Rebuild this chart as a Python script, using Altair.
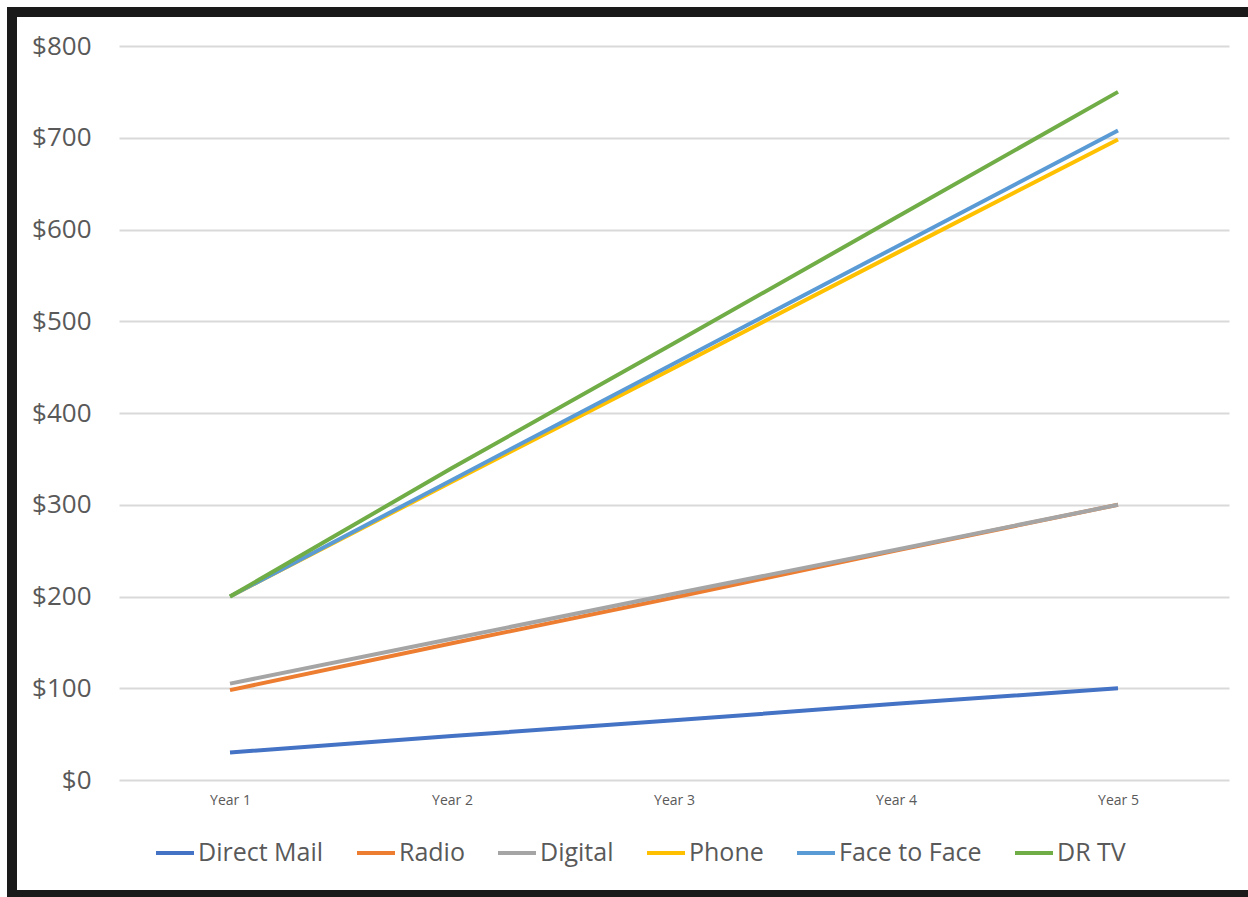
import altair as alt
import pandas as pd

years = ["Year 1", "Year 2", "Year 3", "Year 4", "Year 5"]
channels = ["Direct Mail", "Radio", "Digital", "Phone", "Face to Face", "DR TV"]
colors = ["#4472C4", "#ED7D31", "#A5A5A5", "#FFC000", "#5B9BD5", "#70AD47"]

direct_mail = [30, 48, 65, 83, 100]
radio = [98, 149, 199, 250, 300]
digital = [105, 154, 203, 251, 300]
phone = [200, 325, 449, 574, 698]
face_to_face = [200, 327, 454, 581, 708]
dr_tv = [200, 340, 476, 613, 750]

series = [direct_mail, radio, digital, phone, face_to_face, dr_tv]
rows = []
for name, vals in zip(channels, series):
    for yr, v in zip(years, vals):
        rows.append({"Year": yr, "Channel": name, "Value": v})
df = pd.DataFrame(rows)

FONT = "Open Sans"
TEXT = "#595959"

lines = alt.Chart(df).mark_line(strokeWidth=4).encode(
    x=alt.X("Year:O", sort=years,
            scale=alt.Scale(type="point", padding=0.5),
            axis=alt.Axis(title=None, labelAngle=0, domain=False, ticks=False,
                          labelFontSize=14, labelColor=TEXT, labelFont=FONT,
                          labelPadding=13, grid=False)),
    y=alt.Y("Value:Q", scale=alt.Scale(domain=[0, 800], nice=False),
            axis=alt.Axis(title=None, values=list(range(0, 801, 100)), format="$,.0f",
                          domain=False, ticks=False, labelFontSize=26, labelColor=TEXT,
                          labelFont=FONT, labelPadding=28, gridColor="#d9d9d9",
                          gridWidth=2)),
    color=alt.Color("Channel:N", sort=channels,
                    scale=alt.Scale(domain=channels, range=colors),
                    legend=alt.Legend(title=None, orient="none", direction="horizontal",
                                      legendX=35, legendY=786, symbolType="stroke",
                                      symbolSize=1444, symbolStrokeWidth=4,
                                      labelFontSize=25, labelFont=FONT, labelColor=TEXT,
                                      labelOffset=2, columnPadding=25, labelLimit=300)),
    order=alt.Order("Channel:N"),
)

# dark frame on the left, top and bottom of the figure
edge = alt.Chart(pd.DataFrame({"f": [0]}))
left_edge = edge.mark_rule(color="#1a1a1a", strokeWidth=10).encode(
    x=alt.value(-107), y=alt.value(-39), y2=alt.value(853))
top_edge = edge.mark_rule(color="#1a1a1a", strokeWidth=10).encode(
    x=alt.value(-112), x2=alt.value(1129), y=alt.value(-34))
bottom_edge = edge.mark_rule(color="#1a1a1a", strokeWidth=10).encode(
    x=alt.value(-112), x2=alt.value(1129), y=alt.value(849))

chart = alt.layer(lines, left_edge, top_edge, bottom_edge).properties(
    width=1110, height=734,
    autosize=alt.AutoSizeParams(type="none"),
    padding={"left": 119, "top": 46, "right": 19, "bottom": 117},
    background="white",
).configure_view(stroke=None)

chart.save("out.html", embed_options={"renderer": "svg", "actions": False})
